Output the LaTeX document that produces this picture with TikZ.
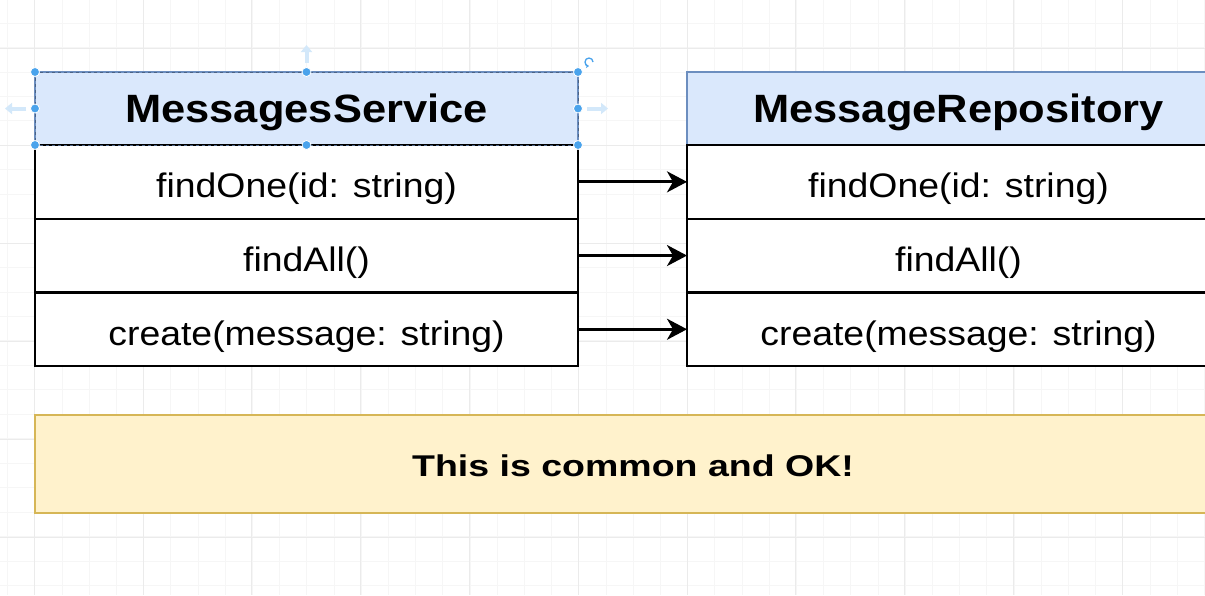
\documentclass[tikz,border=0pt]{standalone}
\usepackage{fontspec}
\setmainfont{Liberation Sans}[FakeStretch=1.1]
\newfontfamily\notefont{Liberation Sans}[FakeStretch=1.25]
\usetikzlibrary{positioning,arrows.meta}

\definecolor{hdrfill}{HTML}{DAE8FC}
\definecolor{hdrline}{HTML}{6C8EBF}
\definecolor{notefill}{HTML}{FFF2CC}
\definecolor{noteline}{HTML}{D6B656}
\definecolor{handle}{HTML}{4AA3EC}
\definecolor{handlefaint}{HTML}{D3E8FA}
\definecolor{gridminor}{HTML}{F6F6F6}
\definecolor{gridmajor}{HTML}{EBEBEB}

\tikzset{
  hdr/.style={draw=hdrline, fill=hdrfill, line width=1.6pt, minimum width=543pt, minimum height=73pt,
    inner sep=0pt, outer sep=0pt, text height=27pt, text depth=0pt, font=\fontsize{39.5}{44}\selectfont\bfseries},
  row/.style={draw=black, fill=white, line width=2.4pt, minimum width=543pt, minimum height=73.7pt,
    inner sep=0pt, outer sep=0pt, text height=32pt, text depth=0pt, font=\fontsize{34}{40}\selectfont},
  note/.style={draw=noteline, fill=notefill, line width=2.4pt, minimum width=1196pt, minimum height=98pt,
    inner sep=0pt, outer sep=0pt, text height=24pt, text depth=0pt, font=\fontsize{30}{36}\notefont\bfseries},
  call/.style={-{Stealth[length=20pt,width=21pt,inset=6pt]}, line width=2.8pt},
  handledot/.style={circle, fill=handle, draw=white, line width=0.8pt, minimum size=9pt, inner sep=0pt},
  pull/.style={handlefaint, line width=4pt, -{Triangle[length=7pt,width=11pt]}},
}

\begin{document}
\begin{tikzpicture}[x=1pt,y=-1pt]

	% page and grid
	\useasboundingbox (0,0) rectangle (1205,595);
	\clip (0,0) rectangle (1205,595);
	\fill[white] (0,0) rectangle (1205,595);
	\foreach \i in {0,...,44}
		\draw[gridminor, line width=0.7pt] ({7.5+27.2*\i},0) -- ({7.5+27.2*\i},595);
	\foreach \j in {0,...,24}
		\draw[gridminor, line width=0.7pt] (0,{-1.5+24.45*\j}) -- (1205,{-1.5+24.45*\j});
	\foreach \i in {0,...,11}
		\draw[gridmajor, line width=0.7pt] ({34.2+108.8*\i},0) -- ({34.2+108.8*\i},595);
	\foreach \j in {0,...,6}
		\draw[gridmajor, line width=0.7pt] (0,{48+97.8*\j}) -- (1205,{48+97.8*\j});

	% service
	\node[hdr] (svc) at (306.5,108.5) {MessagesService};
	\node[row, below=0pt of svc] (svc1) {findOne(id: string)};
	\node[row, below=0pt of svc1] (svc2) {findAll()};
	\node[row, below=0pt of svc2] (svc3) {create(message: string)};

	% repository
	\node[hdr] (repo) at (958.5,108.5) {MessageRepository};
	\node[row, below=0pt of repo] (repo1) {findOne(id: string)};
	\node[row, below=0pt of repo1] (repo2) {findAll()};
	\node[row, below=0pt of repo2] (repo3) {create(message: string)};

	% calls
	\draw[call] (svc1.east) -- (repo1.west);
	\draw[call] (svc2.east) -- (repo2.west);
	\draw[call] (svc3.east) -- (repo3.west);

	% note
	\node[note] (ok) at (633,464) {This is common and OK!};

	% selection
	\draw[dashed, hdrline!70!black, line width=0.8pt] (svc.north west) rectangle (svc.south east);
	\draw[pull] ([shift={(0,-9)}]svc.north) -- ([shift={(0,-27)}]svc.north);
	\draw[pull] ([shift={(-9,0)}]svc.west) -- ([shift={(-30,0)}]svc.west);
	\draw[pull] ([shift={(9,0)}]svc.east) -- ([shift={(30,0)}]svc.east);
	\draw[handle, line width=1.3pt, -{Stealth[length=3pt,width=4pt]}] ([shift={(15,-10)}]svc.north east) arc[start angle=0, end angle=-270, radius=4];
	\foreach \a in {north west,north,north east,west,east,south west,south,south east}
		\node[handledot] (svc-\a) at (svc.\a) {};

\end{tikzpicture}
\end{document}
